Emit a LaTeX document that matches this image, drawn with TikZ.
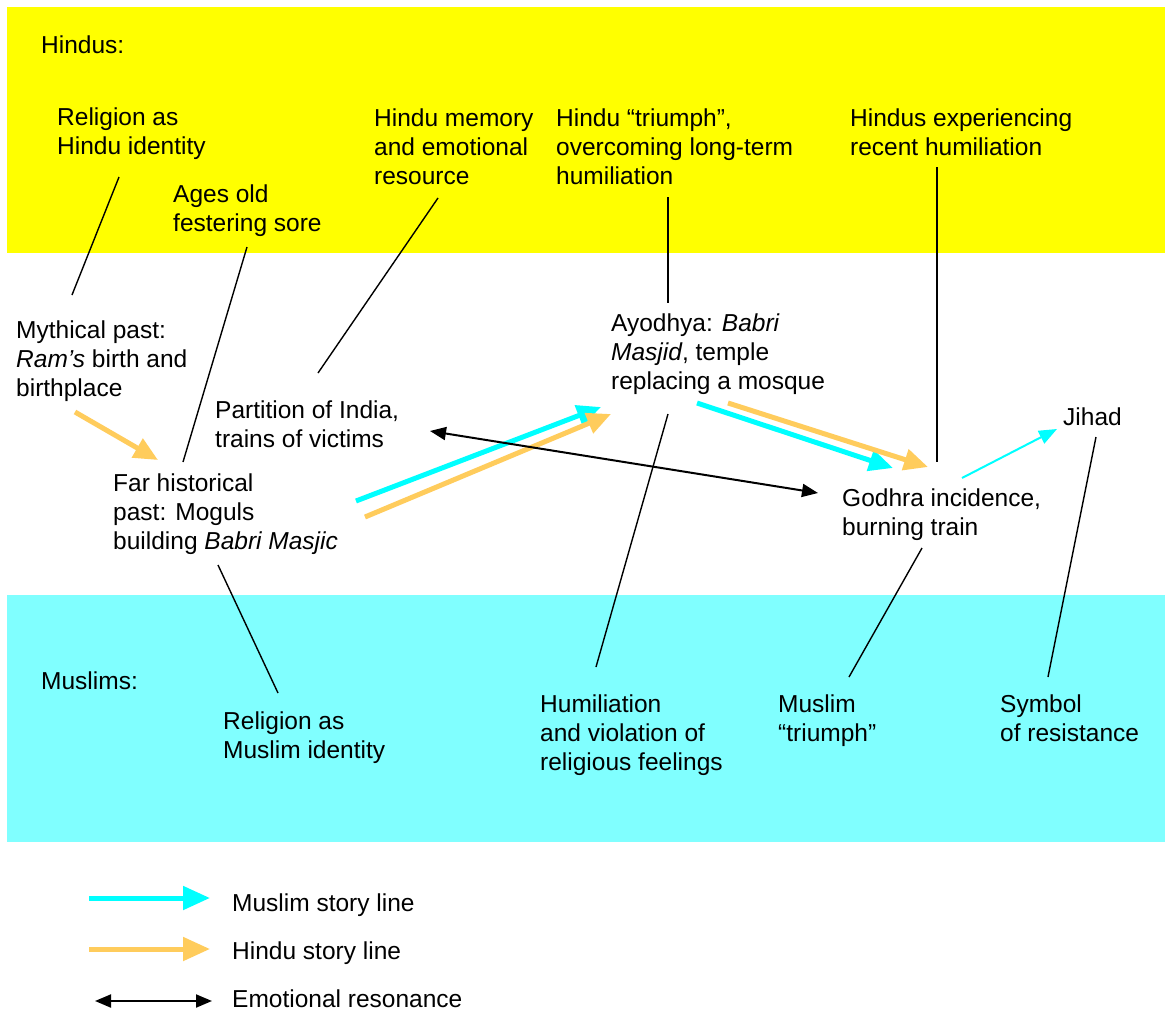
\documentclass[tikz,border=0pt]{standalone}
\usepackage{fontspec}
\setmainfont{Liberation Sans}
\usetikzlibrary{arrows.meta}
\definecolor{hinduband}{HTML}{FFFF00}
\definecolor{muslimband}{HTML}{80FFFF}
\definecolor{cyanline}{HTML}{00FFFF}
\definecolor{orangeline}{HTML}{FFCC5C}
\begin{document}
\begin{tikzpicture}[x=1pt,y=-1pt,
  lbl/.style={anchor=north west,inner sep=0pt,align=left,font=\fontsize{24.5}{29}\selectfont},
  link/.style={draw=black,line width=1.4pt},
  cyanarrow/.style={draw=cyanline,line width=5pt,-{Triangle[length=24pt,width=21pt]}},
  orangearrow/.style={draw=orangeline,line width=5pt,-{Triangle[length=24pt,width=21pt]}},
  thincyan/.style={draw=cyanline,line width=2pt,-{Triangle[length=18pt,width=14pt]}},
  resonance/.style={draw=black,line width=2pt,{Triangle[length=16pt,width=13pt]}-{Triangle[length=16pt,width=13pt]}},
  legcyan/.style={draw=cyanline,line width=5pt,-{Triangle[length=27pt,width=23pt]}},
  legorange/.style={draw=orangeline,line width=5pt,-{Triangle[length=27pt,width=23pt]}}
]
\useasboundingbox (0,0) rectangle (1165,1012);
\fill[white] (0,0) rectangle (1165,1012);
\fill[hinduband] (7,7) rectangle (1165,253);
\fill[muslimband] (7,595) rectangle (1165,842);

% text nodes
\node[lbl] (hindus) at (41,36) {Hindus:};
\node[lbl] (relH) at (57,108) {Religion as\\Hindu identity};
\node[lbl] (ages) at (173,185) {Ages old\\festering sore};
\node[lbl] (memory) at (374,109) {Hindu memory\\and emotional\\resource};
\node[lbl] (triumphH) at (556,109) {Hindu “triumph”,\\overcoming long-term\\humiliation};
\node[lbl] (exper) at (850,109) {Hindus experiencing\\recent humiliation};
\node[lbl] (myth) at (16,321) {Mythical past:\\\textit{Ram’s} birth and\\birthplace};
\node[lbl] (partition) at (215,401) {Partition of India,\\trains of victims};
\node[lbl] (far) at (113,474) {Far historical\\past: Moguls\\building \textit{Babri Masjic}};
\node[lbl] (ayodhya) at (611,314) {Ayodhya: \textit{Babri}\\\textit{Masjid}, temple\\replacing a mosque};
\node[lbl] (jihad) at (1063,408) {Jihad};
\node[lbl] (godhra) at (842,489) {Godhra incidence,\\burning train};
\node[lbl] (muslims) at (41,672) {Muslims:};
\node[lbl] (relM) at (223,712) {Religion as\\Muslim identity};
\node[lbl] (humil) at (540,695) {Humiliation\\and violation of\\religious feelings};
\node[lbl] (triumphM) at (778,695) {Muslim\\“triumph”};
\node[lbl] (symbol) at (1000,695) {Symbol\\of resistance};
\node[lbl] (legM) at (232,894) {Muslim story line};
\node[lbl] (legH) at (232,942) {Hindu story line};
\node[lbl] (legE) at (232,990) {Emotional resonance};

% connector end points
\coordinate (relH-end) at (119,177);
\coordinate (myth-end) at (72,295);
\coordinate (ages-end) at (247,247);
\coordinate (far-top) at (183,462);
\coordinate (memory-end) at (438,198);
\coordinate (partition-end) at (318,373);
\coordinate (triumphH-end) at (668,197);
\coordinate (ayodhya-top) at (668,303);
\coordinate (exper-end) at (937,167);
\coordinate (godhra-top) at (937,462);
\coordinate (far-bottom) at (218,565);
\coordinate (relM-end) at (278,693);
\coordinate (ayodhya-bottom) at (668,414);
\coordinate (humil-end) at (596,667);
\coordinate (godhra-bottom) at (922,548);
\coordinate (triumphM-end) at (849,677);
\coordinate (jihad-end) at (1096,437);
\coordinate (symbol-end) at (1048,677);

\draw[link] (relH-end) -- (myth-end);
\draw[link] (ages-end) -- (far-top);
\draw[link] (memory-end) -- (partition-end);
\draw[link] (triumphH-end) -- (ayodhya-top);
\draw[link] (exper-end) -- (godhra-top);
\draw[link] (far-bottom) -- (relM-end);
\draw[link] (ayodhya-bottom) -- (humil-end);
\draw[link] (godhra-bottom) -- (triumphM-end);
\draw[link] (jihad-end) -- (symbol-end);

% story line arrows
\coordinate (myth-out) at (75,412);
\coordinate (far-in) at (158,460);
\coordinate (far-outC) at (356,501);
\coordinate (ayodhya-inC) at (601,407);
\coordinate (far-outO) at (365,517);
\coordinate (ayodhya-inO) at (611,414);
\coordinate (ayodhya-outC) at (697,403);
\coordinate (godhra-inC) at (893,468);
\coordinate (ayodhya-outO) at (728,403);
\coordinate (godhra-inO) at (928,467);
\coordinate (godhra-out) at (962,478);
\coordinate (jihad-in) at (1057,429);
\coordinate (partition-res) at (430,431);
\coordinate (godhra-res) at (818,493);

\draw[orangearrow] (myth-out) -- (far-in);
\draw[cyanarrow] (far-outC) -- (ayodhya-inC);
\draw[orangearrow] (far-outO) -- (ayodhya-inO);
\draw[cyanarrow] (ayodhya-outC) -- (godhra-inC);
\draw[orangearrow] (ayodhya-outO) -- (godhra-inO);
\draw[thincyan] (godhra-out) -- (jihad-in);
\draw[resonance] (partition-res) -- (godhra-res);

% legend
\coordinate (lc1) at (89,898);
\coordinate (lc2) at (210,898);
\coordinate (lo1) at (89,949);
\coordinate (lo2) at (210,949);
\coordinate (le1) at (95,1001);
\coordinate (le2) at (212,1001);
\draw[legcyan] (lc1) -- (lc2);
\draw[legorange] (lo1) -- (lo2);
\draw[resonance] (le1) -- (le2);
\end{tikzpicture}
\end{document}
